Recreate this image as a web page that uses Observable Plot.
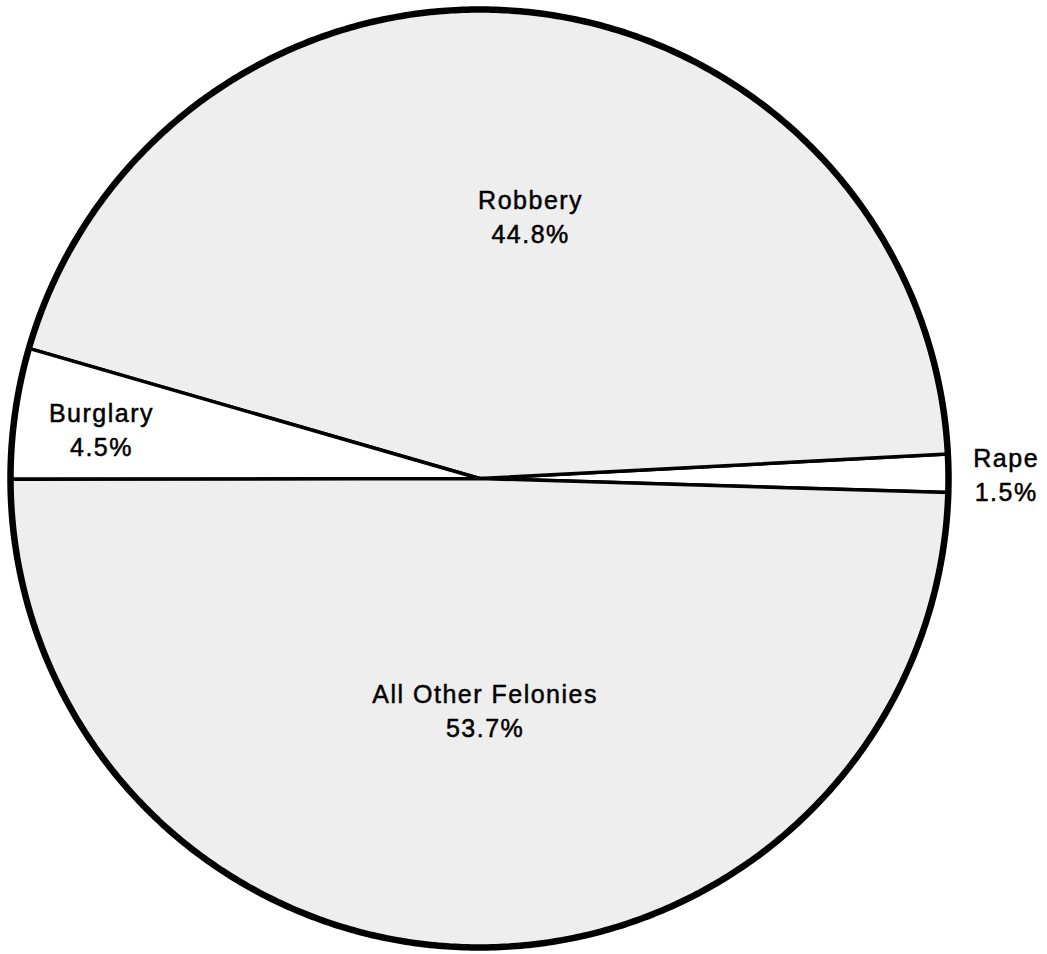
<!DOCTYPE html>
<html>
<head>
<meta charset="utf-8">
<script src="https://cdn.jsdelivr.net/npm/d3@7"></script>
<script src="https://cdn.jsdelivr.net/npm/@observablehq/plot@0.6"></script>
<style>
  html, body { margin: 0; padding: 0; background: #ffffff; }
  #chart svg { display: block; }
</style>
</head>
<body>
<div id="chart"></div>
<script>
// ---- Data ----
// Slices listed counter-clockwise, starting just below the 3 o'clock position.
const categories = ["Rape", "Robbery", "Burglary", "All Other Felonies"];
// Percentages printed on the chart
const labelPct = [1.5, 44.8, 4.5, 53.7];
// Share of the circle each slice actually occupies in the drawing (%)
const drawnShare = [1.3, 44.7, 4.5, 49.5];

// ---- Layout / style (not data) ----
const W = 1047, H = 954;
const cx = 479, cy = 478, R = 469;
const startDeg = -1.7;                 // where the first slice starts (degrees, ccw from 3 o'clock)
const shaded = "#eeeeee";
const fills = {"Rape": "#ffffff", "Robbery": shaded, "Burglary": "#ffffff", "All Other Felonies": shaded};
// label anchor positions in units of the radius
const labelAt = {
  "Rape": [1.123, 0.0107],
  "Robbery": [0.109, 0.561],
  "Burglary": [-0.806, 0.1066],
  "All Other Felonies": [0.012, -0.4925]
};

// ---- Build slice polygons from the data ----
const rad = d => d * Math.PI / 180;
let acc = startDeg;
const slices = categories.map((cat, i) => {
  const a0 = acc, a1 = acc + drawnShare[i] * 3.6;
  acc = a1;
  const n = Math.max(2, Math.ceil((a1 - a0) / 0.5));
  const pts = [{cat, x: 0, y: 0}];
  for (let k = 0; k <= n; k++) {
    const a = rad(a0 + (a1 - a0) * k / n);
    pts.push({cat, x: Math.cos(a), y: Math.sin(a)});
  }
  pts.push({cat, x: 0, y: 0});
  return {cat, pts};
});

const circlePts = d3.range(0, 721).map(k => {
  const a = rad(k * 0.5);
  return {x: Math.cos(a), y: Math.sin(a)};
});

const labels = categories.map((cat, i) => ({
  x: labelAt[cat][0],
  y: labelAt[cat][1],
  text: `${cat}\n${labelPct[i].toFixed(1)}%`
}));

const chart = Plot.plot({
  width: W,
  height: H,
  margin: 0,
  x: {domain: [-1, 1], range: [cx - R, cx + R], axis: null},
  y: {domain: [-1, 1], range: [cy + R, cy - R], axis: null},
  style: {fontFamily: "'Liberation Sans', Arial, Helvetica, sans-serif", background: "#ffffff", letterSpacing: "1.5px"},
  marks: [
    ...slices.map(s => Plot.line(s.pts, {
      x: "x", y: "y",
      fill: fills[s.cat],
      stroke: "#000000",
      strokeWidth: 3.5,
      strokeLinejoin: "round",
      curve: "linear"
    })),
    Plot.line(circlePts, {x: "x", y: "y", stroke: "#000000", strokeWidth: 6.5, fill: "none"}),
    Plot.text(labels, {
      x: "x", y: "y", text: "text",
      fontSize: 25,
      lineHeight: 1.34,
      fill: "#000000",
      stroke: "#000000",
      strokeWidth: 0.5,
      textAnchor: "middle",
      lineAnchor: "middle"
    })
  ]
});

document.getElementById("chart").appendChild(chart);
</script>
</body>
</html>
